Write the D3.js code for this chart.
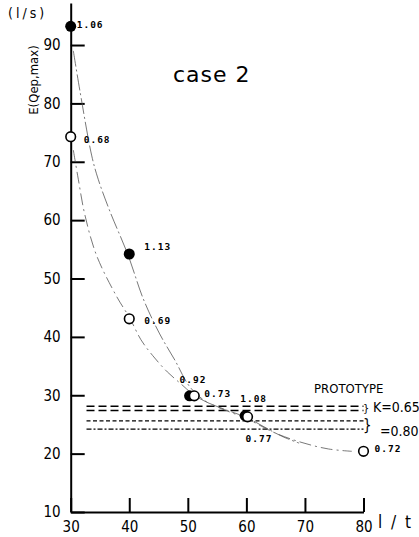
<!DOCTYPE html>
<html>
<head>
<meta charset="utf-8">
<script src="https://cdn.jsdelivr.net/npm/d3@7"></script>
<style>
  body { margin: 0; background: #fff; }
  svg { display: block; }
  .axis path, .axis line { stroke: #000; stroke-width: 2; }
  .axis text { font-family: "Liberation Sans Narrow", "DejaVu Sans Condensed", sans-serif; font-size: 15px; fill: #000; }
  .ptLabel { font-family: "DejaVu Sans Mono", monospace; font-size: 9.5px; font-weight: bold; letter-spacing: 1px; }
  .narrow { font-family: "Liberation Sans Narrow", "DejaVu Sans Condensed", sans-serif; }
</style>
</head>
<body>
<script>

// data
var yTicks = [10, 20, 30, 40, 50, 60, 70, 80, 90];
var xTicks = [30, 40, 50, 60, 70, 80];

// filled points (upper series)
var filledX = [30, 40, 50.3, 59.8];
var filledY = [93.2, 54.2, 29.9, 26.5];
var filledLabels = ["1.06", "1.13", "0.92", "1.08"];

// open points (lower series)
var openX = [30, 40, 51.1, 60.2, 80];
var openY = [74.3, 43.1, 29.9, 26.3, 20.4];
var openLabels = ["0.68", "0.69", "0.73", "0.77", "0.72"];

// hand drawn curves through the points
var upperCurveX = [30.45, 31.6, 33.6, 34.7, 36.7, 39.8, 42.4, 45.2, 47.8, 50.3, 53, 56, 60, 63, 66, 69];
var upperCurveY = [89, 82, 71, 67, 61.5, 54, 46.5, 40.5, 36, 31.5, 29, 27.7, 26.2, 24.6, 23, 21.8];
var lowerCurveX = [30.45, 31.3, 32.4, 34.4, 37.8, 40.1, 42, 44, 46.5, 49, 51.1, 55, 60, 65, 69.5, 74, 78];
var lowerCurveY = [72, 67, 61, 54, 47, 43.2, 39.5, 36.8, 34, 31.8, 30, 28, 26, 23.5, 21.9, 20.8, 20.4];

// prototype levels (K=0.65 pair, K=0.80 pair)
var protoLevels = [28.1, 27.4, 25.6, 24.2];
var protoStart = 32.7;
var protoEnd = 80;

// label offsets in pixels (layout only)
var filledOffsets = [[6, 2], [15, -4], [-10, -13], [-5, -14]];
var openOffsets = [[13, 6], [15, 5], [10, 1], [-2, 25], [11, 1]];
var protoDash = ["8,4", "8,4", "4,2.5", "5,2,2,2"];

window.onload = function() {

  var w = 419;
  var h = 537;

  var svg = d3.select("body")
    .append("svg")
    .attr("width", w)
    .attr("height", h);

  // scales
  var x = d3.scaleLinear()
    .domain([30, 80])
    .range([70.7, 363.5]);

  var y = d3.scaleLinear()
    .domain([10, 97.2])
    .range([512, 3]);

  // y axis, ticks pointing inward
  var yAxis = d3.axisLeft(y)
    .tickValues(yTicks)
    .tickSizeInner(-14)
    .tickSizeOuter(0)
    .tickPadding(10)
    .tickFormat(d3.format("d"));

  svg.append("g")
    .attr("class", "axis")
    .attr("transform", "translate(" + x(30) + ",0)")
    .call(yAxis);

  // x axis
  var xAxis = d3.axisBottom(x)
    .tickValues(xTicks)
    .tickSizeInner(-14)
    .tickSizeOuter(0)
    .tickPadding(9)
    .tickFormat(d3.format("d"));

  svg.append("g")
    .attr("class", "axis")
    .attr("transform", "translate(0," + y(10) + ")")
    .call(xAxis);

  // axis titles
  svg.append("text")
    .attr("class", "narrow")
    .attr("x", 8)
    .attr("y", 18)
    .style("font-size", "14px")
    .style("letter-spacing", "3px")
    .text("(l/s)");

  svg.append("text")
    .attr("class", "narrow")
    .attr("transform", "translate(38,80) rotate(-90)")
    .style("text-anchor", "middle")
    .style("font-size", "13px")
    .text("E(Qep,max)");

  svg.append("text")
    .attr("class", "narrow")
    .attr("x", 378)
    .attr("y", 528)
    .style("font-size", "17px")
    .style("letter-spacing", "2px")
    .text("l / t");

  svg.append("text")
    .attr("x", 173)
    .attr("y", 82)
    .style("font-family", "DejaVu Sans, sans-serif")
    .style("font-size", "22px")
    .style("letter-spacing", "1px")
    .text("case 2");

  // prototype lines
  svg.selectAll(".proto")
    .data(protoLevels)
    .enter()
    .append("line")
    .attr("class", "proto")
    .attr("x1", x(protoStart))
    .attr("x2", x(protoEnd))
    .attr("y1", function(d) { return y(d); })
    .attr("y2", function(d) { return y(d); })
    .attr("stroke", "#000")
    .attr("stroke-width", function(d, i) { return i < 2 ? 1.5 : 1.3; })
    .attr("stroke-dasharray", function(d, i) { return protoDash[i]; });

  svg.append("text")
    .attr("class", "narrow")
    .attr("x", 314)
    .attr("y", 393)
    .style("font-size", "13px")
    .text("PROTOTYPE");

  // braces and K labels
  svg.append("text")
    .attr("class", "narrow")
    .attr("x", 363)
    .attr("y", (y(protoLevels[0]) + y(protoLevels[1])) / 2 + 4)
    .style("font-size", "11px")
    .text("}");

  svg.append("text")
    .attr("class", "narrow")
    .attr("x", 363)
    .attr("y", (y(protoLevels[2]) + y(protoLevels[3])) / 2 + 5)
    .style("font-size", "15px")
    .text("}");

  svg.append("text")
    .attr("class", "narrow")
    .attr("x", 373)
    .attr("y", 412)
    .style("font-size", "14px")
    .text("K=0.65");

  svg.append("text")
    .attr("class", "narrow")
    .attr("x", 380)
    .attr("y", 436)
    .style("font-size", "14px")
    .text("=0.80");

  // curves
  var line = d3.line()
    .x(function(d) { return x(d[0]); })
    .y(function(d) { return y(d[1]); })
    .curve(d3.curveCatmullRom);

  var upper = upperCurveX.map(function(d, i) { return [d, upperCurveY[i]]; });
  var lower = lowerCurveX.map(function(d, i) { return [d, lowerCurveY[i]]; });

  svg.append("path")
    .datum(upper)
    .attr("d", line)
    .attr("fill", "none")
    .attr("stroke", "#555")
    .attr("stroke-width", 0.8)
    .attr("stroke-dasharray", "16,3,2,3");

  svg.append("path")
    .datum(lower)
    .attr("d", line)
    .attr("fill", "none")
    .attr("stroke", "#555")
    .attr("stroke-width", 0.8)
    .attr("stroke-dasharray", "12,4,2,4");

  // filled points
  svg.selectAll(".filled")
    .data(filledY)
    .enter()
    .append("circle")
    .attr("class", "filled")
    .attr("cx", function(d, i) { return x(filledX[i]); })
    .attr("cy", function(d) { return y(d); })
    .attr("r", 5.5)
    .attr("fill", "#000");

  // open points, drawn over the filled ones
  svg.selectAll(".open")
    .data(openY)
    .enter()
    .append("circle")
    .attr("class", "open")
    .attr("cx", function(d, i) { return x(openX[i]); })
    .attr("cy", function(d) { return y(d); })
    .attr("r", 4.8)
    .attr("fill", "#fff")
    .attr("stroke", "#000")
    .attr("stroke-width", 1.6);

  // point labels
  svg.selectAll(".openLabel")
    .data(openLabels)
    .enter()
    .append("text")
    .attr("class", "ptLabel")
    .attr("x", function(d, i) { return x(openX[i]) + openOffsets[i][0]; })
    .attr("y", function(d, i) { return y(openY[i]) + openOffsets[i][1]; })
    .text(function(d) { return d; });

  svg.selectAll(".filledLabel")
    .data(filledLabels)
    .enter()
    .append("text")
    .attr("class", "ptLabel")
    .attr("x", function(d, i) { return x(filledX[i]) + filledOffsets[i][0]; })
    .attr("y", function(d, i) { return y(filledY[i]) + filledOffsets[i][1]; })
    .text(function(d) { return d; });
};
</script>
</body>
</html>
